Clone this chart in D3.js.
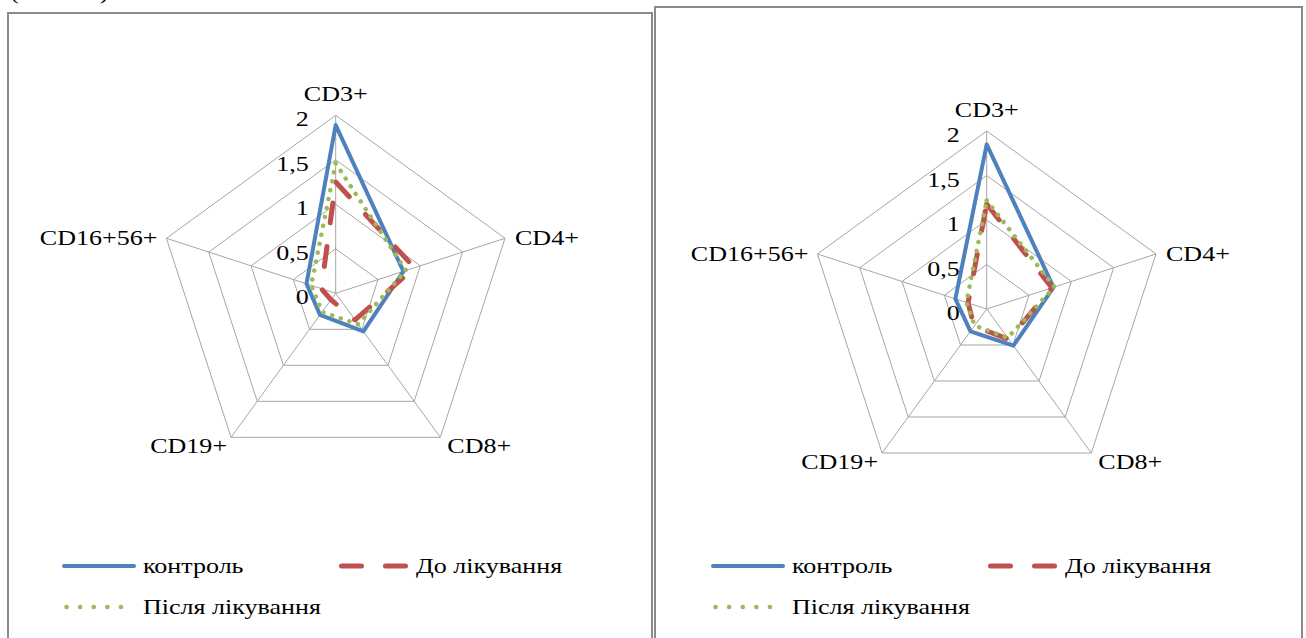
<!DOCTYPE html>
<html>
<head>
<meta charset="utf-8">
<script src="https://cdn.jsdelivr.net/npm/d3@7"></script>
<style>
html,body{margin:0;padding:0;background:#fff;}
svg{display:block;}
text{font-family:"Liberation Serif","Times New Roman",serif;fill:#000;}
</style>
</head>
<body>
<svg id="chart" width="1306" height="638"></svg>
<script>
// ---- data ----
const axesNames = ["CD3+", "CD4+", "CD8+", "CD19+", "CD16+56+"];
const tickValues = [0, 0.5, 1, 1.5, 2];
const tickLabels = ["0", "0,5", "1", "1,5", "2"];
const seriesNames = ["контроль", "До лікування", "Після лікування"];
const seriesColors = ["#4F81BD", "#C0504D", "#9BBB59"];

const leftControl = [1.89, 0.80, 0.53, 0.30, 0.345];
const leftBefore  = [1.25, 0.93, 0.37, 0.09, 0.17];
const leftAfter   = [1.46, 0.83, 0.43, 0.26, 0.29];

const rightControl = [1.85, 0.79, 0.51, 0.31, 0.37];
const rightBefore  = [1.18, 0.77, 0.42, 0.24, 0.22];
const rightAfter   = [1.22, 0.80, 0.40, 0.23, 0.24];

// ---- layout ----
const svg = d3.select("#chart");
const FS = 21, SX = 1.24;
const R = 178;

// clipped caption at very top
function txt(g, x, y, s, anchor) {
  return g.append("text")
    .attr("transform", `translate(${x},${y}) scale(${SX},1)`)
    .attr("text-anchor", anchor || "start")
    .attr("font-size", FS)
    .text(s);
}
txt(svg, 10, -1, "(");
txt(svg, 100, -1, ")");

const panels = [
  {x: 8, y: 13, w: 644, cx: 335.7, cy: 293.3, data: [leftControl, leftBefore, leftAfter], lx: 64},
  {x: 655, y: 7, w: 647, cx: 986.7, cy: 309, data: [rightControl, rightBefore, rightAfter], lx: 713}
];

const styles = [
  {w: 4, dash: null, cap: "butt"},
  {w: 5, dash: "20,24", cap: "round"},
  {w: 4.5, dash: "0.1,9", cap: "round"}
];

const rScale = d3.scaleLinear().domain([0, 2]).range([0, R]);
const aScale = d3.scaleLinear().domain([0, axesNames.length]).range([0, 2 * Math.PI]);

panels.forEach(p => {
  svg.append("rect")
    .attr("x", p.x).attr("y", p.y).attr("width", p.w).attr("height", 700)
    .attr("fill", "#fff").attr("stroke", "#8a8a8a").attr("stroke-width", 2);

  const g = svg.append("g").attr("transform", `translate(${p.cx},${p.cy})`);
  const pt = (i, v) => {
    const a = aScale(i);
    return [rScale(v) * Math.sin(a), -rScale(v) * Math.cos(a)];
  };

  // grid rings
  tickValues.filter(t => t > 0).forEach(t => {
    g.append("path")
      .attr("d", d3.line()(axesNames.map((_, i) => pt(i, t))) + "Z")
      .attr("fill", "none").attr("stroke", "#a6a6a6").attr("stroke-width", 1);
  });
  // spokes
  axesNames.forEach((_, i) => {
    const e = pt(i, 2);
    g.append("line").attr("x1", 0).attr("y1", 0).attr("x2", e[0]).attr("y2", e[1])
      .attr("stroke", "#a6a6a6").attr("stroke-width", 1);
  });

  // tick labels
  tickValues.forEach((t, k) => {
    txt(g, -27, -rScale(t) + 11, tickLabels[k], "end");
  });

  // axis labels
  const off = [
    {dx: 0, dy: -14, a: "middle"},
    {dx: 10, dy: 7, a: "start"},
    {dx: 7, dy: 16, a: "start"},
    {dx: -4, dy: 16, a: "end"},
    {dx: -9, dy: 7, a: "end"}
  ];
  axesNames.forEach((name, i) => {
    const e = pt(i, 2);
    txt(g, e[0] + off[i].dx, e[1] + off[i].dy, name, off[i].a);
  });

  // series
  const radial = d3.lineRadial()
    .angle((d, i) => aScale(i))
    .radius(d => rScale(d))
    .curve(d3.curveLinearClosed);
  p.data.forEach((vals, s) => {
    const path = g.append("path")
      .attr("d", radial(vals))
      .attr("fill", "none")
      .attr("stroke", seriesColors[s])
      .attr("stroke-width", styles[s].w)
      .attr("stroke-linecap", styles[s].cap)
      .attr("stroke-linejoin", "round");
    if (styles[s].dash) path.attr("stroke-dasharray", styles[s].dash);
  });

  // legend
  const leg = [
    {x: p.lx, y: 566, tx: p.lx + 79},
    {x: p.lx + 275, y: 566, tx: p.lx + 352},
    {x: p.lx, y: 607, tx: p.lx + 79}
  ];
  leg.forEach((L, s) => {
    const st = styles[s];
    const ln = svg.append("line")
      .attr("x1", L.x + (st.cap === "round" ? 2.5 : 0)).attr("x2", L.x + 70 - (st.cap === "round" ? 2.5 : 0))
      .attr("y1", L.y).attr("y2", L.y)
      .attr("stroke", seriesColors[s]).attr("stroke-width", st.w)
      .attr("stroke-linecap", st.cap === "butt" ? "round" : st.cap);
    if (s === 2) ln.attr("stroke-dasharray", "0.1,13.5");
    else if (st.dash) ln.attr("stroke-dasharray", st.dash);
    txt(svg, L.tx, L.y + 7, seriesNames[s]);
  });
});
</script>
</body>
</html>
